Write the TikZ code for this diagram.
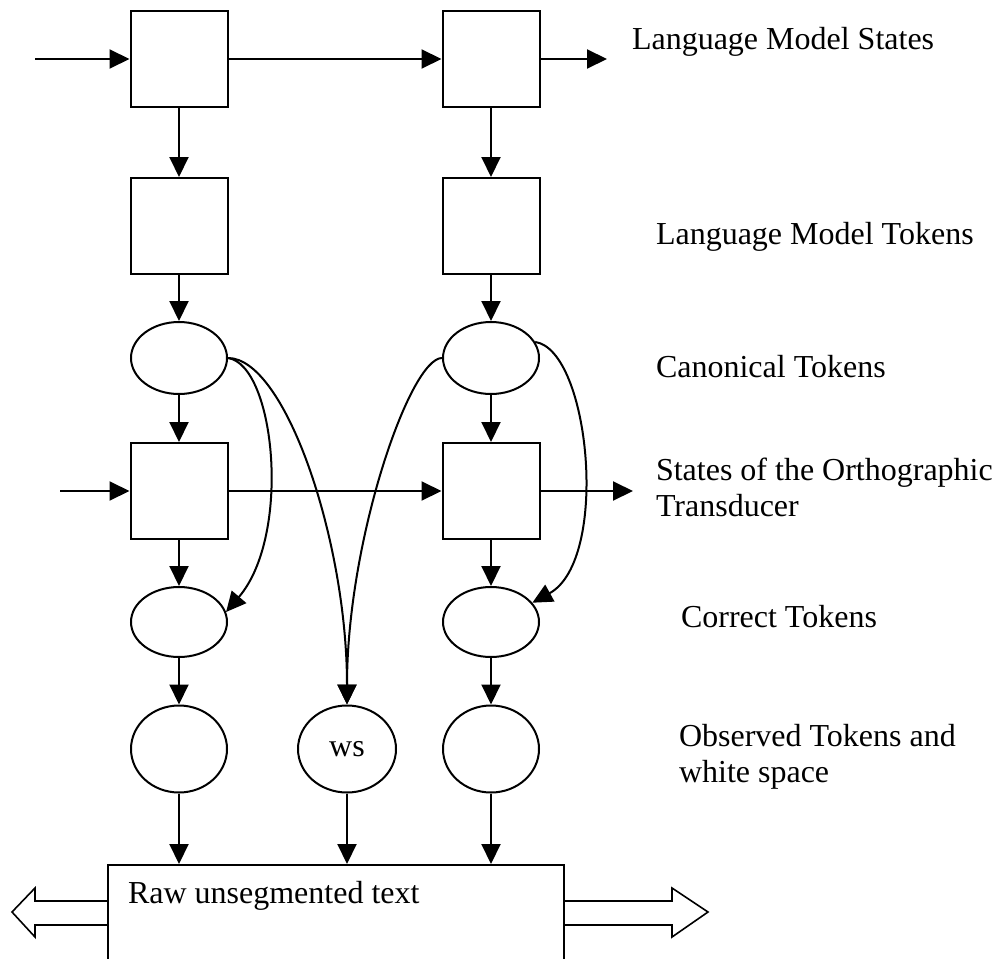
\documentclass[tikz,border=0pt]{standalone}
\usepackage{fontspec}
\setmainfont{Liberation Serif}
\usetikzlibrary{positioning,arrows.meta,calc,shapes.geometric}

\begin{document}
\begin{tikzpicture}[x=1pt, y=-1pt, line width=2pt, font=\fontsize{32}{36}\selectfont,
  state/.style={draw, minimum width=97pt, minimum height=96pt, inner sep=0pt},
  tok/.style={draw, ellipse, minimum width=96pt, minimum height=72pt, inner sep=0pt},
  obs/.style={tok, minimum height=87pt},
  lbl/.style={anchor=base west, align=left, inner sep=0pt},
  arr/.style={-{Triangle[length=20pt, width=19pt]}}]
\useasboundingbox (0,0) rectangle (995,958);
% state and token columns
\node[state] (smL) at (179,59) {};
\node[state] (smR) at (491,59) {};
\node[state] (tkL) at (179,226) {};
\node[state] (tkR) at (491,226) {};
\node[tok] (canL) at (179,358) {};
\node[tok] (canR) at (491,358) {};
\node[state] (otL) at (179,491) {};
\node[state] (otR) at (491,491) {};
\node[tok, minimum height=70pt] (corL) at (179,622) {};
\node[tok, minimum height=70pt] (corR) at (491,622) {};
\node[obs] (obsL) at (179,749) {};
\node[obs, minimum width=98pt] (ws) at (347,749) {ws};
\node[obs] (obsR) at (491,749) {};
\node[draw, anchor=north west, minimum width=456pt, minimum height=100pt, inner sep=0pt] (raw) at (107,864) {};
\node[lbl] (rawTxt) at (127,903) {Raw unsegmented text};
% free ends of the horizontal chains
\coordinate (inTop) at (35,59);
\coordinate (outTop) at (607,59);
\coordinate (inOt) at (60,491);
\coordinate (outOt) at (633,491);
% labels
\node[lbl] (lmStates) at (631,49) {Language Model States};
\node[lbl] (lmTokens) at (655,244) {Language Model Tokens};
\node[lbl] (canTokens) at (655,377) {Canonical Tokens};
\node[lbl] (otStates) at (655,516) {States of the Orthographic\\Transducer};
\node[lbl] (corTokens) at (680,627) {Correct Tokens};
\node[lbl] (obsTokens) at (678,782) {Observed Tokens and\\white space};
% horizontal arrows
\draw[arr] (inTop) -- (smL);
\draw[arr] (smL) -- (smR);
\draw[arr] (smR) -- (outTop);
\draw[arr] (inOt) -- (otL);
\draw[arr] (otL) -- (otR);
\draw[arr] (otR) -- (outOt);
% vertical arrows
\foreach \c in {L,R} {
  \draw[arr] (sm\c) -- (tk\c);
  \draw[arr] (tk\c) -- (can\c);
  \draw[arr] (can\c) -- (ot\c);
  \draw[arr] (ot\c) -- (cor\c);
  \draw[arr] (cor\c) -- (obs\c);
}
\draw[arr] (obsL) -- (obsL |- raw.north);
\draw[arr] (ws) -- (ws |- raw.north);
\draw[arr] (obsR) -- (obsR |- raw.north);
% curved arrows
\draw[arr] (canL.east) .. controls (275,365) and (292,535) .. (corL.12);
\draw[arr] (canL.east) .. controls (285,358) and (347,540) .. (ws.north);
\draw[arr] (canR.west) .. controls (410,358) and (347,540) .. (ws.north);
\draw[arr] (canR.20) .. controls (590,350) and (610,560) .. (corR.25);
% hollow arrows on the text box
\draw[line width=1.6pt, line join=miter] (raw.west |- 0,901) -- (35,901) -- (35,888) -- (12,912) -- (35,937) -- (35,925) -- (raw.west |- 0,925);
\draw[line width=1.6pt, line join=miter] (raw.east |- 0,901) -- (672,901) -- (672,888) -- (708,912) -- (672,937) -- (672,925) -- (raw.east |- 0,925);
\end{tikzpicture}
\end{document}
